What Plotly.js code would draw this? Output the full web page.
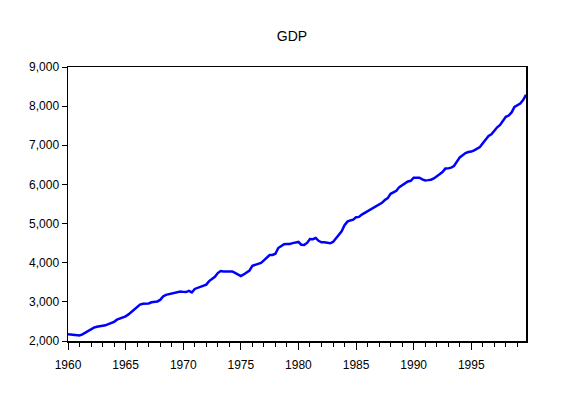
<!DOCTYPE html>
<html>
<head>
<meta charset="utf-8">
<script src="https://cdn.plot.ly/plotly-3.0.1.min.js"></script>
<style>html,body{margin:0;padding:0;background:#fff;}#chart{width:566px;height:393px;}</style>
</head>
<body>
<div id="chart"></div>
<script>
// Quarterly GDP, 1960Q1 - 1999Q4
const startYear = 1960;
const gdp1960s = [
  2171, 2165, 2160, 2150,
  2140, 2170, 2215, 2260,
  2300, 2340, 2365, 2375,
  2385, 2400, 2430, 2455,
  2490, 2545, 2570, 2590,
  2630, 2680, 2740, 2800,
  2880, 2930, 2950, 2955,
  2960, 2990, 3000, 3010,
  3050, 3140, 3180, 3200,
  3215, 3240, 3255, 3265
];
const gdp1970s = [
  3255, 3250, 3280, 3240,
  3330, 3360, 3395, 3415,
  3440, 3530, 3580, 3640,
  3735, 3786, 3775, 3775,
  3778, 3778, 3740, 3705,
  3660, 3700, 3760, 3800,
  3920, 3945, 3965, 3995,
  4060, 4140, 4197, 4197,
  4230, 4376, 4415, 4470,
  4479, 4480, 4500, 4525
];
const gdp1980s = [
  4530, 4460, 4455, 4505,
  4605, 4600, 4632, 4560,
  4521, 4521, 4505, 4496,
  4530, 4620, 4720, 4800,
  4957, 5050, 5080, 5100,
  5162, 5170, 5230, 5274,
  5330, 5368, 5420, 5460,
  5487, 5530, 5600, 5650,
  5761, 5800, 5838, 5932,
  5980, 6034, 6077, 6094
];
const gdp1990s = [
  6171, 6171, 6171, 6130,
  6103, 6110, 6120, 6154,
  6200, 6260, 6316, 6405,
  6410, 6430, 6470, 6590,
  6690, 6744, 6800, 6829,
  6840, 6872, 6920, 6957,
  7050, 7137, 7239, 7280,
  7385, 7460, 7521, 7624,
  7726, 7760, 7840, 7983,
  8020, 8068, 8154, 8291
];
const xTickVals = [1960, 1965, 1970, 1975, 1980, 1985, 1990, 1995];
const xTickText = ["1960", "1965", "1970", "1975", "1980", "1985", "1990", "1995"];
const yTickVals = [2000, 3000, 4000, 5000, 6000, 7000, 8000, 9000];

const gdp = gdp1960s.concat(gdp1970s, gdp1980s, gdp1990s);
const t = gdp.map((_, i) => startYear + i / 4);

const font = {family: '"Liberation Sans", Arial, sans-serif', size: 12, color: '#000'};

Plotly.newPlot('chart', [{
  x: t, y: gdp, type: 'scatter', mode: 'lines',
  line: {color: '#0000FF', width: 2.5},
  hoverinfo: 'skip'
}], {
  width: 566, height: 393,
  margin: {l: 68, r: 40, t: 67, b: 52, pad: 0},
  paper_bgcolor: '#fff', plot_bgcolor: '#fff',
  showlegend: false,
  font: font,
  title: {
    text: 'GDP', font: {family: font.family, size: 14, color: '#000'},
    xref: 'paper', x: 0.489, xanchor: 'center',
    yref: 'container', y: 0.908, yanchor: 'middle'
  },
  xaxis: {
    range: [1960, 1999.75],
    tickmode: 'array', tickvals: xTickVals, ticktext: xTickText,
    ticks: 'outside', ticklen: 7, tickwidth: 1, tickcolor: '#000',
    minor: {ticks: 'outside', ticklen: 4, tickwidth: 1, tickcolor: '#000', dtick: 1, tick0: 1960, showgrid: false},
    showline: true, linecolor: '#000', linewidth: 1.5, mirror: true,
    showgrid: false, zeroline: false,
    ticklabelstandoff: 5,
    tickfont: font
  },
  yaxis: {
    range: [2000, 9000],
    tickmode: 'array', tickvals: yTickVals,
    tickformat: ',d',
    ticks: 'outside', ticklen: 5, tickwidth: 1, tickcolor: '#000',
    showline: true, linecolor: '#000', linewidth: 1.5, mirror: true,
    showgrid: false, zeroline: false,
    tickfont: font
  }
}, {staticPlot: true, displayModeBar: false});
</script>
</body>
</html>
